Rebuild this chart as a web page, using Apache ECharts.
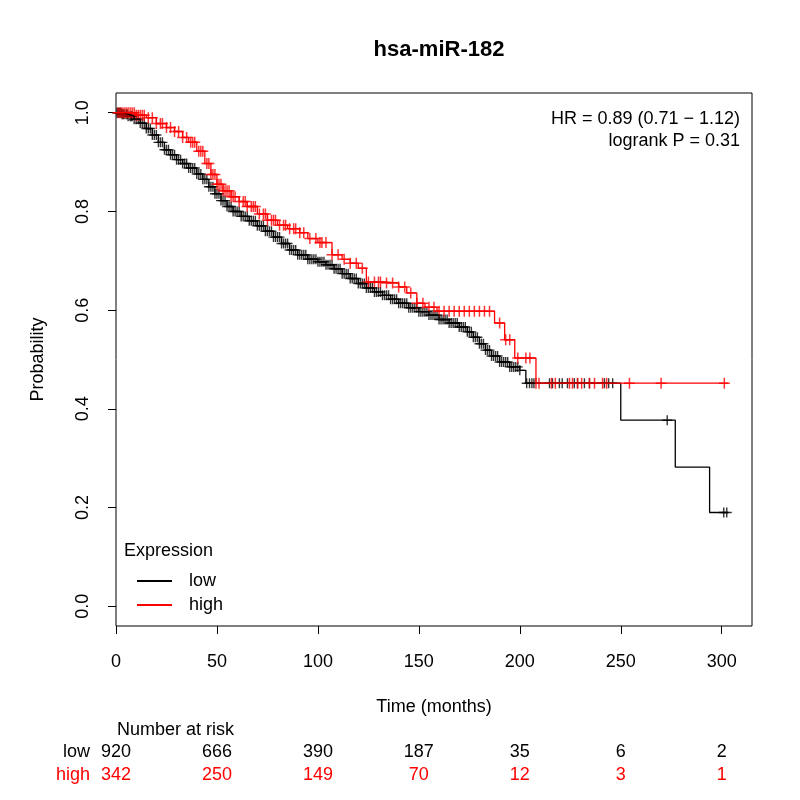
<!DOCTYPE html>
<html>
<head>
<meta charset="utf-8">
<script src="https://cdn.jsdelivr.net/npm/echarts@6/dist/echarts.min.js"></script>
<style>
html, body { margin: 0; padding: 0; background: #fff; }
#main { width: 800px; height: 800px; }
</style>
</head>
<body>
<div id="main"></div>
<script>
// KM curves: [time, survival]
const lowCurve = [
    [0, 1.0], [3, 0.997], [6, 0.993], [9, 0.987], [12, 0.979], [15, 0.968], [18, 0.955],
    [21, 0.94], [24, 0.925], [27, 0.915], [30, 0.905], [33, 0.897], [36, 0.888], [40, 0.876],
    [43, 0.865], [46, 0.85], [49, 0.836], [52, 0.822], [55, 0.81], [58, 0.80], [62, 0.79],
    [66, 0.781], [70, 0.771], [74, 0.76], [78, 0.748], [82, 0.735], [86, 0.722], [90, 0.712],
    [95, 0.703], [100, 0.698], [104, 0.692], [108, 0.684], [112, 0.674], [116, 0.664],
    [120, 0.654], [124, 0.645], [128, 0.637], [132, 0.63], [136, 0.622], [140, 0.614],
    [145, 0.605], [150, 0.597], [155, 0.59], [160, 0.581], [165, 0.574], [170, 0.566],
    [174, 0.556], [177, 0.545], [180, 0.532], [183, 0.519], [186, 0.507], [190, 0.495],
    [195, 0.485], [200, 0.478], [203, 0.452], [250, 0.377], [277, 0.282], [294, 0.19], [303, 0.19]
];
const highCurve = [
    [0, 1.0], [5, 1.0], [10, 0.995], [15, 0.99], [20, 0.978], [25, 0.97], [29, 0.962],
    [33, 0.95], [36, 0.94], [40, 0.922], [44, 0.897], [47, 0.875], [50, 0.855], [53, 0.842],
    [57, 0.83], [61, 0.82], [65, 0.81], [70, 0.795], [75, 0.782], [80, 0.772], [85, 0.765],
    [91, 0.757], [95, 0.745], [100, 0.737], [107, 0.712], [112, 0.703], [116, 0.695],
    [120, 0.685], [124, 0.657], [133, 0.655], [140, 0.647], [144, 0.635], [149, 0.614],
    [153, 0.606], [159, 0.598], [187.5, 0.574], [192.5, 0.54], [197.5, 0.503], [208, 0.452],
    [303, 0.452]
];

// censoring times (the "+" marks)
const lowCensor = [
    0.5, 1, 1.5, 2, 2.5, 3, 3.5, 4, 5, 5.5, 6, 7, 7.5, 8, 9, 10, 11, 12, 13, 14, 15, 16, 17,
    18, 19, 20, 21, 22, 23, 24, 25, 26, 27, 28, 29, 30, 31, 32, 33, 34, 35, 36, 37, 38, 39,
    40, 41, 42, 43, 44, 45, 46, 47, 48, 49, 50, 51, 52, 53, 54, 55, 56, 57, 58, 59, 60, 61,
    62, 63, 64, 65, 66, 67, 68, 69, 70, 71, 72, 73, 74, 75, 76, 77, 78, 79, 80, 81, 82, 83,
    84, 85, 86, 87, 88, 89, 90, 91, 92, 93, 94, 95, 96, 97, 98, 99, 100, 101, 102, 103, 104,
    105, 106, 107, 108, 109, 110, 111, 112, 113, 114, 115, 116, 117, 118, 119, 120, 121,
    122, 123, 124, 125, 126, 127, 128, 129, 130, 131, 132, 133, 134, 135, 136, 137, 138,
    139, 140, 141, 142, 143, 144, 145, 146, 147, 148, 149, 150, 151, 152, 153, 154, 155,
    156, 157, 158, 159, 160, 161, 162, 163, 164, 165, 166, 167, 168, 169, 170, 171, 172,
    173, 174, 175, 176, 177, 178, 179, 180, 181, 182, 183, 184, 185, 186, 187, 188, 189,
    190, 191, 192, 193, 194, 195, 196, 197, 198, 199, 200, 203.4, 204.8, 206, 207, 214.7,
    216.2, 219.6, 221, 223.6, 227, 228.6, 232, 234.5, 241.9, 244, 246, 273, 301, 302.5
];
const highCensor = [
    1, 2, 3, 4, 5, 6, 7, 8, 9, 10, 11, 12, 13, 14, 16, 18, 20, 22, 23, 25, 27, 29, 31, 33,
    35, 37, 38, 39, 41, 42, 43, 45, 46, 47, 48, 49, 50, 51, 52, 53, 54, 55, 56, 57, 58, 59,
    61, 63, 64, 65, 67, 68, 69, 71, 73, 74, 75, 77, 78, 79, 81, 83, 84, 86, 88, 89, 91, 93,
    96, 99, 101, 102, 104, 107, 110, 113, 116, 119, 122, 125, 128, 130, 131, 134, 137, 140,
    143, 146, 149, 152, 155, 157.5, 160, 162.5, 165, 167.5, 170, 172.5, 175, 177.5, 180,
    182.5, 185, 190, 193, 195, 199, 203, 205, 208, 209.5, 215.7, 217.6, 224.6, 226.1, 228.6,
    230.6, 234.5, 237, 241, 243, 254.3, 270, 301.3
];

const xTicks = [0, 50, 100, 150, 200, 250, 300];
const yTicks = [0, 0.2, 0.4, 0.6, 0.8, 1.0];
const riskTimes = [0, 50, 100, 150, 200, 250, 300];
const riskLow = [920, 666, 390, 187, 35, 6, 2];
const riskHigh = [342, 250, 149, 70, 12, 3, 1];

const FONT = 'Liberation Sans, Arial, Helvetica, sans-serif';
const RED = '#ff0000';

function survAt(curve, t) {
    let s = curve[0][1];
    for (const p of curve) {
        if (p[0] <= t) s = p[1];
    }
    return s;
}

const plus = 'path://M5,0L5,10M0,5L10,5';

const myChart = echarts.init(document.getElementById('main'));
const option = {
    animation: false,
    backgroundColor: '#fff',
    textStyle: { fontFamily: FONT },
    title: {
        text: 'hsa-miR-182',
        left: 434,
        top: 34,
        textAlign: 'center',
        textStyle: { fontFamily: FONT, fontSize: 22, fontWeight: 'bold', color: '#000' }
    },
    grid: {
        left: 116, right: 48, top: 93, bottom: 174,
        show: true, borderColor: '#000', borderWidth: 1
    },
    legend: {
        data: ['low', 'high'],
        orient: 'vertical',
        left: 131,
        top: 567,
        itemWidth: 35,
        itemHeight: 14,
        itemGap: 6,
        itemStyle: { opacity: 0 },
        textStyle: { fontFamily: FONT, fontSize: 18, color: '#000', padding: [0, 0, 0, 12] }
    },
    xAxis: {
        type: 'value',
        min: 0,
        max: 315,
        name: 'Time (months)',
        nameLocation: 'middle',
        nameGap: 72,
        nameTextStyle: { fontFamily: FONT, fontSize: 18, color: '#000' },
        axisLine: { show: false, onZero: false },
        splitLine: { show: false },
        axisTick: { customValues: xTicks, length: 8, lineStyle: { color: '#000' } },
        axisLabel: { customValues: xTicks, margin: 27, fontSize: 18, color: '#000', fontFamily: FONT }
    },
    yAxis: {
        type: 'value',
        min: -0.04,
        max: 1.04,
        name: 'Probability',
        nameLocation: 'middle',
        nameGap: 69,
        nameTextStyle: { fontFamily: FONT, fontSize: 18, color: '#000' },
        axisLine: { show: false, onZero: false },
        splitLine: { show: false },
        axisTick: { customValues: yTicks, length: 8, lineStyle: { color: '#000' } },
        axisLabel: {
            customValues: yTicks, rotate: 90, margin: 24, fontSize: 18, color: '#000', fontFamily: FONT,
            formatter: v => v.toFixed(1)
        }
    },
    series: [
        {
            name: 'low', type: 'line', step: 'end', symbol: 'none',
            data: lowCurve, lineStyle: { color: '#000', width: 1.3 }, itemStyle: { color: '#000' }
        },
        {
            name: 'low censored', type: 'scatter', symbol: plus, symbolSize: 10,
            data: lowCensor.map(t => [t, survAt(lowCurve, t)]),
            itemStyle: { color: 'transparent', borderColor: '#000', borderWidth: 1.4 }
        },
        {
            name: 'high', type: 'line', step: 'end', symbol: 'none',
            data: highCurve, lineStyle: { color: RED, width: 1.3 }, itemStyle: { color: RED }
        },
        {
            name: 'high censored', type: 'scatter', symbol: plus, symbolSize: 11,
            data: highCensor.map(t => [t, survAt(highCurve, t)]),
            itemStyle: { color: 'transparent', borderColor: RED, borderWidth: 1.5 }
        }
    ]
};
myChart.setOption(option);

// texts: HR, legend title, number-at-risk table
const txt = (x, y, text, opts) => ({
    type: 'text', x: x, y: y, silent: true,
    style: Object.assign({
        text: text, fontFamily: FONT, fontSize: 18, fill: '#000',
        textAlign: 'left', textVerticalAlign: 'middle'
    }, opts || {})
});
const graphics = [
    txt(740, 119, 'HR = 0.89 (0.71 \u2212 1.12)', { textAlign: 'right' }),
    txt(740, 141, 'logrank P = 0.31', { textAlign: 'right' }),
    txt(124, 551, 'Expression'),
    txt(117, 730, 'Number at risk'),
    txt(90, 752, 'low', { textAlign: 'right' }),
    txt(90, 775, 'high', { textAlign: 'right', fill: RED })
];
riskTimes.forEach((t, i) => {
    const px = myChart.convertToPixel({ xAxisIndex: 0 }, t);
    graphics.push(txt(px, 752, String(riskLow[i]), { textAlign: 'center' }));
    graphics.push(txt(px, 775, String(riskHigh[i]), { textAlign: 'center', fill: RED }));
});
myChart.setOption({ graphic: graphics });
</script>
</body>
</html>
